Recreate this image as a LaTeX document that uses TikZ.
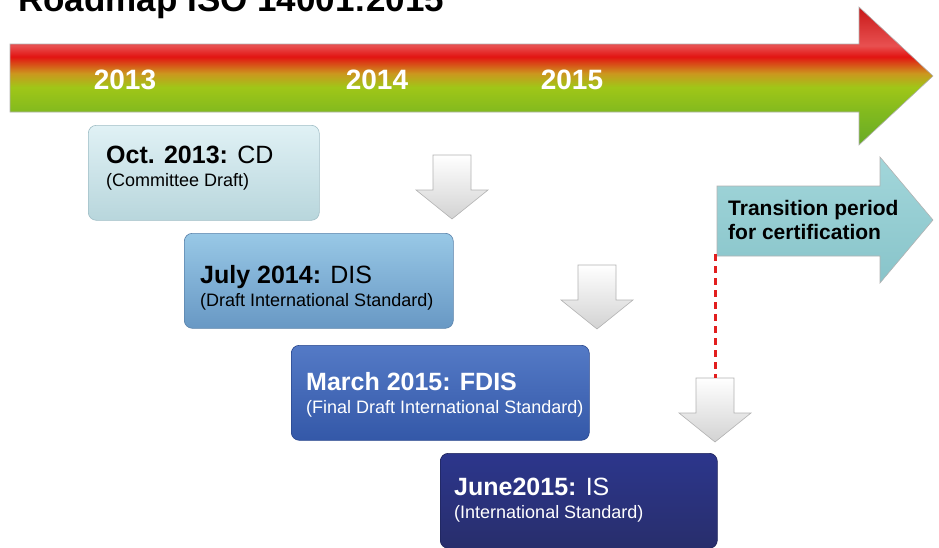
\documentclass[tikz,border=0pt]{standalone}
\usepackage{fontspec}
\setmainfont{Liberation Sans}
\usetikzlibrary{positioning}
\definecolor{tlgreen}{RGB}{104,170,40}
\definecolor{tlgreenb}{RGB}{130,186,30}
\definecolor{tlyellow}{RGB}{160,198,24}
\definecolor{tlorange}{RGB}{204,150,30}
\definecolor{tlred}{RGB}{226,20,18}
\definecolor{tlpink}{RGB}{232,80,80}
\definecolor{tldark}{RGB}{200,24,24}
\definecolor{cdtop}{RGB}{224,241,245}
\definecolor{cdbot}{RGB}{184,214,220}
\definecolor{cdline}{RGB}{160,190,198}
\definecolor{distop}{RGB}{152,200,230}
\definecolor{disbot}{RGB}{104,152,196}
\definecolor{disline}{RGB}{90,130,170}
\definecolor{fdistop}{RGB}{84,122,198}
\definecolor{fdisbot}{RGB}{52,88,168}
\definecolor{fdisline}{RGB}{40,70,140}
\definecolor{istop}{RGB}{44,54,140}
\definecolor{isbot}{RGB}{40,46,108}
\definecolor{isline}{RGB}{30,36,90}
\definecolor{transtop}{RGB}{162,214,218}
\definecolor{transbot}{RGB}{136,196,202}
\definecolor{dashred}{RGB}{226,30,30}
\pgfdeclareverticalshading{timeline}{100bp}{color(0bp)=(tlgreen); color(25bp)=(tlgreen); color(37bp)=(tlgreenb); color(46bp)=(tlyellow); color(51bp)=(tlorange); color(57bp)=(tlred); color(61bp)=(tlpink); color(75bp)=(tldark); color(100bp)=(tldark)}
\newcommand{\stagefont}{\fontsize{25}{23}\selectfont}

\begin{document}
\begin{tikzpicture}[x=1pt, y=-1pt,
  stagebox/.style={rectangle, rounded corners=8pt, anchor=north west, minimum height=95pt, line width=0.6pt, inner sep=0pt},
  stagetext/.style={anchor=north west, align=left, inner sep=0pt, font=\fontsize{18}{23}\selectfont},
  year/.style={text=white, font=\fontsize{28}{30}\selectfont\bfseries},
  downfill/.style={top color=white, bottom color=gray!35, draw=gray!60, line width=0.6pt},
  redline/.style={draw=dashred, line width=3pt, dash pattern=on 7pt off 5pt},
  pics/downarr/.style={code={
    \shadedraw[downfill] (-19,0) -- (19,0) -- (19,35) -- (36,35) -- (0,64) -- (-36,35) -- (-19,35) -- cycle;
    \coordinate (-top) at (0,0);
  }}
]
\useasboundingbox (0,0) rectangle (939,547);

% title, cut by the top edge
\node[anchor=base west, inner sep=0pt, font=\fontsize{35}{40}\selectfont\bfseries] (title) at (18,11) {Roadmap ISO 14001:2015};

% time line
\shadedraw[shading=timeline, draw=gray!60, line width=0.6pt] (10,44) -- (859,44) -- (859,7) -- (933,76) -- (859,145) -- (859,112) -- (10,112) -- cycle;
\node[year] (y2013) at (125,80) {2013};
\node[year] (y2014) at (377,80) {2014};
\node[year] (y2015) at (572,80) {2015};

% stages
\node[stagebox, top color=cdtop, bottom color=cdbot, draw=cdline, minimum width=231pt] (cd) at (88,125) {};
\node[stagetext] (cd-text) at ([shift={(18,21)}]cd.north west) {{\stagefont\textbf{Oct. 2013:} CD}\\(Committee Draft)};

\node[stagebox, top color=distop, bottom color=disbot, draw=disline, minimum width=269pt] (dis) at (184,233) {};
\node[stagetext] (dis-text) at ([shift={(16,32)}]dis.north west) {{\stagefont\textbf{July 2014:} DIS}\\(Draft International Standard)};

\node[stagebox, top color=fdistop, bottom color=fdisbot, draw=fdisline, minimum width=298pt] (fdis) at (291,345) {};
\node[stagetext, text=white] (fdis-text) at ([shift={(15,27)}]fdis.north west) {{\stagefont\textbf{March 2015: FDIS}}\\(Final Draft International Standard)};

\node[stagebox, top color=istop, bottom color=isbot, draw=isline, minimum width=277pt] (is) at (440,453) {};
\node[stagetext, text=white] (is-text) at ([shift={(14,25)}]is.north west) {{\stagefont\textbf{June2015:} IS}\\(International Standard)};

% arrows between stages
\pic (a1) at (452,155) {downarr};
\pic (a2) at (597,265) {downarr};
\pic (a3) at (715,378) {downarr};

% transition period
\shadedraw[top color=transtop, bottom color=transbot, draw=gray!60, line width=0.6pt] (717,186) -- (880,186) -- (880,157) -- (933,220) -- (880,283) -- (880,256) -- (717,256) -- cycle;
\node[anchor=north west, align=left, inner sep=0pt, font=\fontsize{21}{24}\selectfont\bfseries] (trans-text) at (728,200) {Transition period\\for certification};
\coordinate (trans-foot) at (715,254);
\draw[redline] (trans-foot) -- (a3-top);
\end{tikzpicture}
\end{document}
